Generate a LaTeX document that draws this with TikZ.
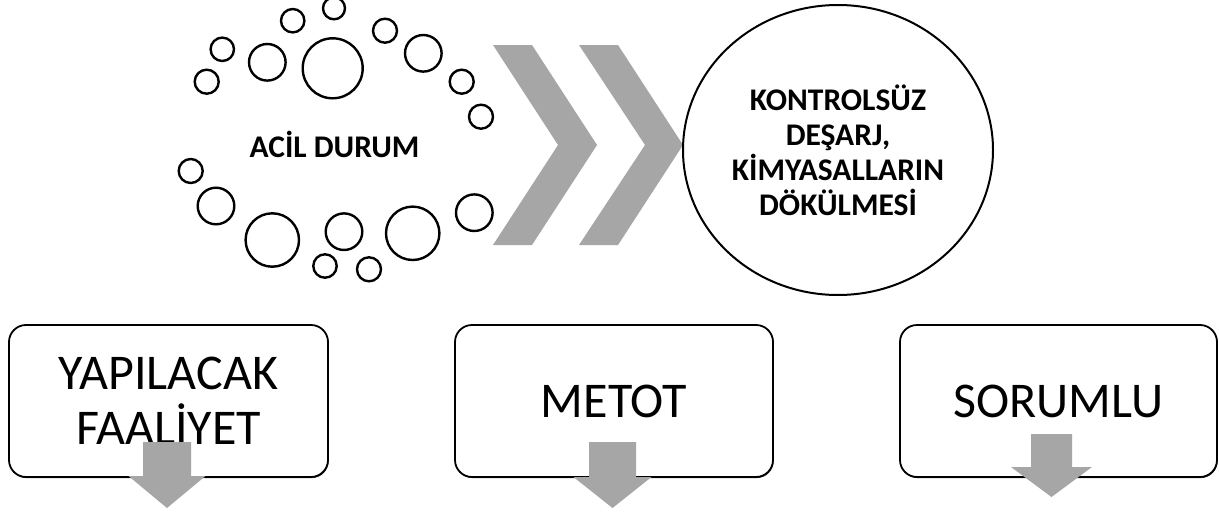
\documentclass[tikz,border=0pt]{standalone}
\usepackage{fontspec}
\setmainfont{Carlito}
\usetikzlibrary{shapes.geometric,shadows}
\definecolor{arrowgray}{HTML}{A6A6A6}
\newcommand\grayarrowdown[6]{%
  \fill[arrowgray] (#1-#5,#2) -- (#1+#5,#2) -- (#1+#5,#3) -- (#1+#6,#3) -- (#1,#4) -- (#1-#6,#3) -- (#1-#5,#3) -- cycle;}
\tikzset{
  bubble/.style={circle, draw=black, line width=2.4pt, inner sep=0pt, minimum size=#1},
  boxnode/.style={draw=black, fill=white, line width=1.8pt, rounded corners=17pt,
    minimum height=152pt, inner sep=0pt, align=center,
    font=\fontsize{50}{55}\selectfont,
    general shadow={fill=black!75, shadow xshift=0.6pt, shadow yshift=-1.1pt}},
  bigellipse/.style={ellipse, draw=black, line width=2pt, minimum width=310pt, minimum height=290pt,
    inner sep=0pt, align=center, font=\bfseries\fontsize{31.5}{35}\selectfont},
  titletext/.style={font=\bfseries\fontsize{31.5}{35}\selectfont, inner sep=0pt},
  chevron/.style={fill=arrowgray}
}
\begin{document}
\begin{tikzpicture}[x=1pt,y=-1pt]
\useasboundingbox (0,0) rectangle (1219,514);
\fill[white] (0,0) rectangle (1219,514);

% bubbles around ACIL DURUM
\node[bubble=22pt] (b1) at (334,8.3) {};
\node[bubble=23.4pt] (b2) at (292.7,20.7) {};
\node[bubble=23.4pt] (b3) at (222.3,49.3) {};
\node[bubble=24pt] (b4) at (206.7,81.7) {};
\node[bubble=36.6pt] (b5) at (267.3,62.3) {};
\node[bubble=60pt] (b6) at (332.7,68.3) {};
\node[bubble=24pt] (b7) at (385,30.7) {};
\node[bubble=36.6pt] (b8) at (423.3,53.3) {};
\node[bubble=24pt] (b9) at (461.7,81.7) {};
\node[bubble=24pt] (b10) at (481,116.7) {};
\node[bubble=24pt] (b11) at (190.7,171) {};
\node[bubble=36.6pt] (b12) at (216,206) {};
\node[bubble=53.4pt] (b13) at (272.3,240) {};
\node[bubble=36.6pt] (b14) at (344,231.7) {};
\node[bubble=53.4pt] (b15) at (412.7,233.3) {};
\node[bubble=36.6pt] (b16) at (474.3,212.7) {};
\node[bubble=23.4pt] (b17) at (325,266) {};
\node[bubble=24pt] (b18) at (369,269.3) {};

\node[titletext] (acil) at (334.5,144) {ACİL DURUM};

% chevrons
\fill[chevron] (493,45) -- (532,45) -- (597,145) -- (532,245) -- (493,245) -- (558,145) -- cycle;
\fill[chevron] (579,45) -- (618,45) -- (683,145) -- (618,245) -- (579,245) -- (645,145) -- cycle;

% big ellipse
\node[bigellipse] (event) at (838,150) {KONTROLSÜZ\\DEŞARJ,\\KİMYASALLARIN\\DÖKÜLMESİ};

% boxes
\node[boxnode, minimum width=319pt] (faaliyet) at (168.5,401) {YAPILACAK\\FAALİYET};
\node[boxnode, minimum width=318pt] (metot) at (614,401) {METOT};
\node[boxnode, minimum width=317pt] (sorumlu) at (1058.5,401) {SORUMLU};

% down arrows
\grayarrowdown{167}{442}{476}{508}{24}{38.5}
\grayarrowdown{612.5}{442}{477}{508}{23.5}{39}
\grayarrowdown{1051.5}{434}{467}{497}{20.5}{40.5}
\end{tikzpicture}
\end{document}
